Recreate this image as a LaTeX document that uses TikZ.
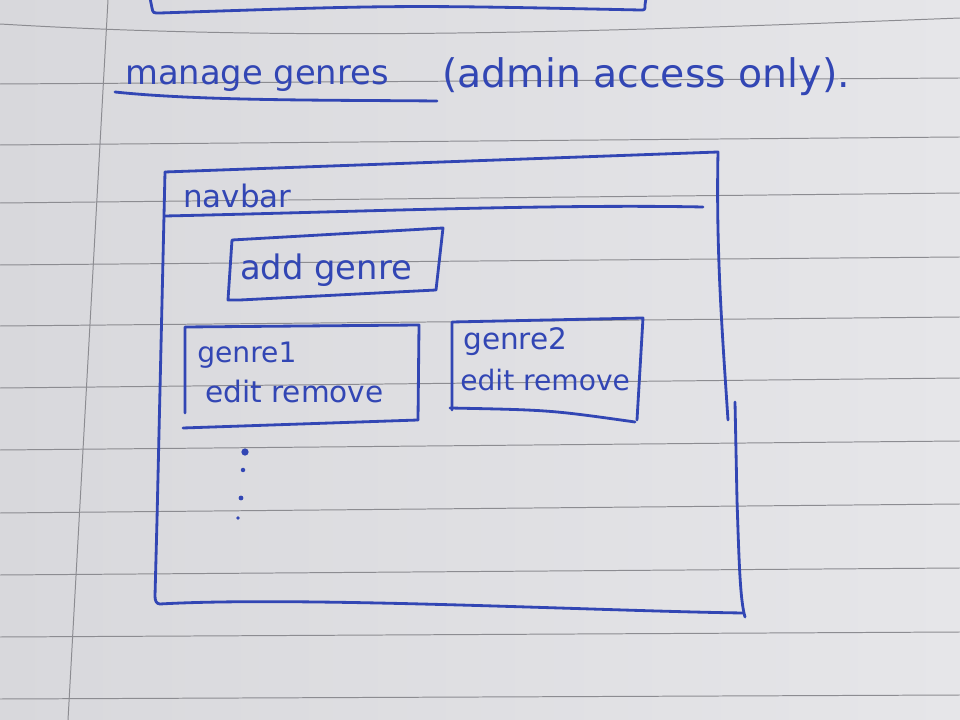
\documentclass[tikz,border=0pt]{standalone}
\usepackage{fontspec}
\newfontfamily\handfont{DejaVu Sans}
\usetikzlibrary{arrows.meta}
\definecolor{ink}{RGB}{50,70,180}
\definecolor{paper}{RGB}{230,230,233}
\definecolor{paperdark}{RGB}{216,216,220}
\definecolor{rulegray}{RGB}{140,140,145}
\tikzset{
  pen/.style={draw=ink, line width=2pt, line cap=round, line join=round},
  ruled/.style={draw=rulegray, line width=0.7pt},
  hand/.style={text=ink, inner sep=0pt, anchor=base west},
  handsize/.style={font=\handfont\fontsize{#1}{#1}\selectfont}
}

\begin{document}
\begin{tikzpicture}[x=0.025cm, y=-0.025cm]
\useasboundingbox (0,0) rectangle (960,720);
\shade[left color=paperdark, right color=paper] (0,0) rectangle (960,720);
\draw[ruled] (0,24) .. controls (300,42) and (600,32) .. (960,18);
\foreach \a/\b in {84/78,145/137,203/193,265/257,326/317,388/378,450/441,513/504,575/568,637/632,699/695}
\draw[ruled] (0,\a) -- (960,\b);
\draw[ruled] (108,0) -- (68,720);
% previous screen
\draw[pen] (150,-2) -- (152,8) .. controls (153,13) .. (160,13) .. controls (400,5) .. (640,10) .. controls (645,10) .. (645,5) -- (646,-2);
% title
\node[hand, handsize=24] (title) at (125,85) {manage genres};
\node[hand, handsize=28] (note) at (442,88) {(admin access only).};
\draw[pen] (115,92) .. controls (200,101) and (330,100) .. (437,101);
% page frame
\draw[pen] (165,172) -- (718,152) .. controls (716,250) and (722,330) .. (728,420);
\draw[pen] (735,402) -- (737,500) .. controls (739,560) and (740,600) .. (745,617);
\draw[pen] (743,613) .. controls (600,611) and (300,596) .. (160,604) .. controls (156,604) and (155,600) .. (155,596) -- (157,520) -- (165,172);
\draw[pen] (165,216) .. controls (350,212) and (550,204) .. (703,207);
\node[hand, handsize=22] (navbar) at (183,208) {navbar};
% add genre button
\draw[pen] (232,240) -- (443,228) -- (436,290) -- (240,300) -- (228,300) -- (232,240);
\node[hand, handsize=24] (addgenre) at (240,280) {add genre};
% genre cards
\draw[pen] (185,413) -- (185,327) -- (419,325) -- (418,420);
\draw[pen] (183,428) -- (418,420);
\node[hand, handsize=20] (genreone) at (197,363) {genre1};
\node[hand, handsize=21] (editone) at (205,403) {edit remove};
\draw[pen] (452,410) -- (452,322) -- (643,318) -- (637,420);
\draw[pen] (450,408) .. controls (550,410) .. (635,422);
\node[hand, handsize=21] (genretwo) at (463,350) {genre2};
\node[hand, handsize=20] (edittwo) at (460,391) {edit remove};
% more cards
\foreach \x/\y/\r in {245/452/2.6pt,243/470/1.6pt,241/498/1.7pt,238/518/1.4pt}
\fill[ink] (\x,\y) circle (\r);
\end{tikzpicture}
\end{document}
